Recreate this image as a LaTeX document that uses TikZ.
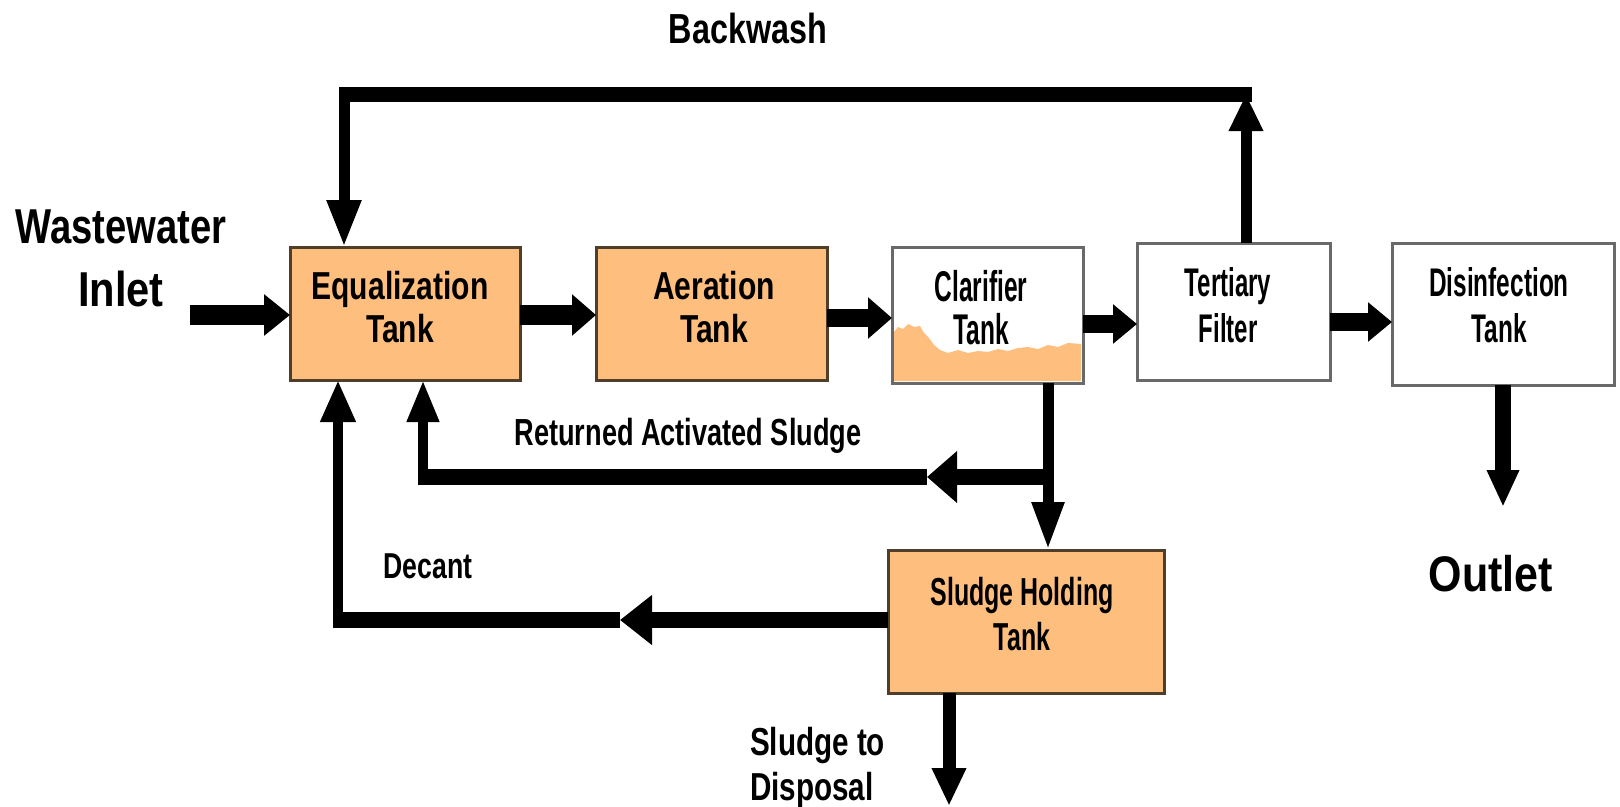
\documentclass[tikz,border=0pt]{standalone}
\usepackage{fontspec}
\setmainfont{Liberation Sans}
\usepackage{graphicx}
\usetikzlibrary{arrows.meta}
\definecolor{tankfill}{RGB}{253,190,126}
\definecolor{tankedge}{RGB}{78,62,42}
\definecolor{wedge}{RGB}{105,105,105}
\newcommand{\hsq}[2]{\scalebox{#1}[1]{#2}}
\tikzset{
  obox/.style={draw=tankedge, line width=3pt, fill=tankfill, inner sep=0pt, outer sep=0pt},
  wbox/.style={draw=wedge, line width=3pt, inner sep=0pt, outer sep=0pt},
  lbl/.style={inner sep=0pt, outer sep=0pt, align=center, text=black},
  flow/.style={line width=#1, draw=black},
}
\begin{document}
\begin{tikzpicture}[x=1pt,y=-1pt]
\useasboundingbox[fill=white] (0,0) rectangle (1620,806);

% sludge in clarifier
\fill[tankfill] (894,381) -- (894,332) -- (898,327) -- (903,329) -- (908,324) -- (914,327) -- (920,326) -- (924,333) -- (929,338) -- (934,345) -- (940,350) -- (948,353) -- (958,350) -- (968,353) -- (978,351) -- (988,352) -- (998,349) -- (1008,351) -- (1018,348) -- (1028,347) -- (1038,349) -- (1048,345) -- (1058,347) -- (1068,343) -- (1081,344) -- (1081,381) -- cycle;

% boxes
\node[obox, minimum width=230pt, minimum height=133pt] (eq) at (405,313.5) {};
\node[obox, minimum width=231pt, minimum height=133pt] (aer) at (711.5,313.5) {};
\node[wbox, minimum width=191pt, minimum height=136pt] (clar) at (987.5,315) {};
\node[wbox, fill=white, minimum width=193pt, minimum height=137pt] (tert) at (1233.5,311.5) {};
\node[wbox, fill=white, minimum width=222pt, minimum height=142pt] (dis) at (1503,314) {};
\node[obox, minimum width=276pt, minimum height=143pt] (shold) at (1026,621.5) {};

% box labels
\node[lbl, anchor=north, font=\fontsize{39}{43}\selectfont\bfseries] (eqT) at (400,271) {\hsq{0.77}{Equalization}\\\hsq{0.77}{Tank}};
\node[lbl, anchor=north, font=\fontsize{39}{43}\selectfont\bfseries] (aerT) at (714,271) {\hsq{0.77}{Aeration}\\\hsq{0.77}{Tank}};
\node[lbl, anchor=north, font=\fontsize{43}{43}\selectfont\bfseries] (clarT) at (981,270) {\hsq{0.57}{Clarifier}\\\hsq{0.57}{Tank}};
\node[lbl, anchor=north, font=\fontsize{40}{46}\selectfont\bfseries] (tertT) at (1228,268) {\hsq{0.6}{Tertiary}\\\hsq{0.6}{Filter}};
\node[lbl, anchor=north, font=\fontsize{40}{46}\selectfont\bfseries] (disT) at (1499,268) {\hsq{0.61}{Disinfection}\\\hsq{0.61}{Tank}};
\node[lbl, anchor=north, font=\fontsize{39}{45}\selectfont\bfseries] (sholdT) at (1022,577) {\hsq{0.64}{Sludge Holding}\\\hsq{0.64}{Tank}};

% free texts
\node[lbl, anchor=base, font=\fontsize{42}{46}\selectfont\bfseries] (bwT) at (748,43) {\hsq{0.77}{Backwash}};
\node[lbl, anchor=north, font=\fontsize{49}{63}\selectfont\bfseries] (inT) at (121,210) {\hsq{0.78}{Wastewater}\\\hsq{0.85}{Inlet}};
\node[lbl, anchor=base, font=\fontsize{50}{56}\selectfont\bfseries] (outT) at (1491,591) {\hsq{0.86}{Outlet}};
\node[lbl, anchor=base, font=\fontsize{37.7}{42}\selectfont\bfseries] (rasT) at (688,445) {\hsq{0.72}{Returned Activated Sludge}};
\node[lbl, anchor=base, font=\fontsize{36}{40}\selectfont\bfseries] (dcT) at (428,578) {\hsq{0.74}{Decant}};
\node[lbl, anchor=north west, align=left, font=\fontsize{39}{45}\selectfont\bfseries] (dsT) at (750,727) {\hsq{0.76}{Sludge to}\\\hsq{0.76}{Disposal}};

% coordinates
\coordinate (inS) at (190,315);
\coordinate (r1) at (0,315);
\coordinate (r2) at (0,318);
\coordinate (r3) at (0,324);
\coordinate (r4) at (0,322);
\coordinate (outE) at (1503,507);
\coordinate (bwR) at (1246,94);
\coordinate (bwL) at (344,94);
\coordinate (cd) at (1048,0);
\coordinate (rasJ) at (1053,477);
\coordinate (rasM) at (927,477);
\coordinate (rasC) at (418,477);
\coordinate (rasV) at (423,485);
\coordinate (dcM) at (620,620);
\coordinate (dcC) at (333,620);
\coordinate (dcV) at (338,628);
\coordinate (dsE) at (949,806);

% main flow
\draw[flow=20pt, -{Triangle[length=26pt,width=40pt]}] (inS) -- (inS -| eq.west);
\draw[flow=20pt, -{Triangle[length=24pt,width=40pt]}] (eq.east |- r1) -- (aer.west |- r1);
\draw[flow=18pt, -{Triangle[length=24pt,width=40pt]}] (aer.east |- r2) -- (clar.west |- r2);
\draw[flow=18pt, -{Triangle[length=24pt,width=38pt]}] (clar.east |- r3) -- (tert.west |- r3);
\draw[flow=18pt, -{Triangle[length=24pt,width=38pt]}] (tert.east |- r4) -- (dis.west |- r4);
\draw[flow=16pt, -{Triangle[length=37pt,width=30pt]}] (dis.south) -- (outE);

% backwash
\draw[flow=11pt, -{Triangle[length=37pt,width=32pt]}] (tert.north -| bwR) -- (bwR);
\draw[flow=15pt] ([xshift=5.5pt]bwR) -- ([xshift=-5.5pt]bwL);
\draw[flow=11pt, -{Triangle[length=47pt,width=32pt]}] (bwL) -- (bwL |- eq.north);

% clarifier to sludge holding
\draw[flow=11pt, -{Triangle[length=48pt,width=30pt]}] (clar.south -| cd) -- (shold.north -| cd);

% returned activated sludge
\draw[flow=16pt, -{Triangle[length=30pt,width=50pt]}] (rasJ) -- (rasM);
\draw[flow=16pt] (rasM) -- (rasC);
\draw[flow=10pt, -{Triangle[length=42pt,width=30pt]}] (rasV) -- (rasV |- eq.south);

% decant
\draw[flow=16pt, -{Triangle[length=32pt,width=48pt]}] (shold.west |- dcM) -- (dcM);
\draw[flow=16pt] (dcM) -- (dcC);
\draw[flow=10pt, -{Triangle[length=42pt,width=33pt]}] (dcV) -- (dcV |- eq.south);

% sludge to disposal
\draw[flow=13pt, -{Triangle[length=38pt,width=32pt]}] (shold.south -| dsE) -- (dsE);
\end{tikzpicture}
\end{document}
